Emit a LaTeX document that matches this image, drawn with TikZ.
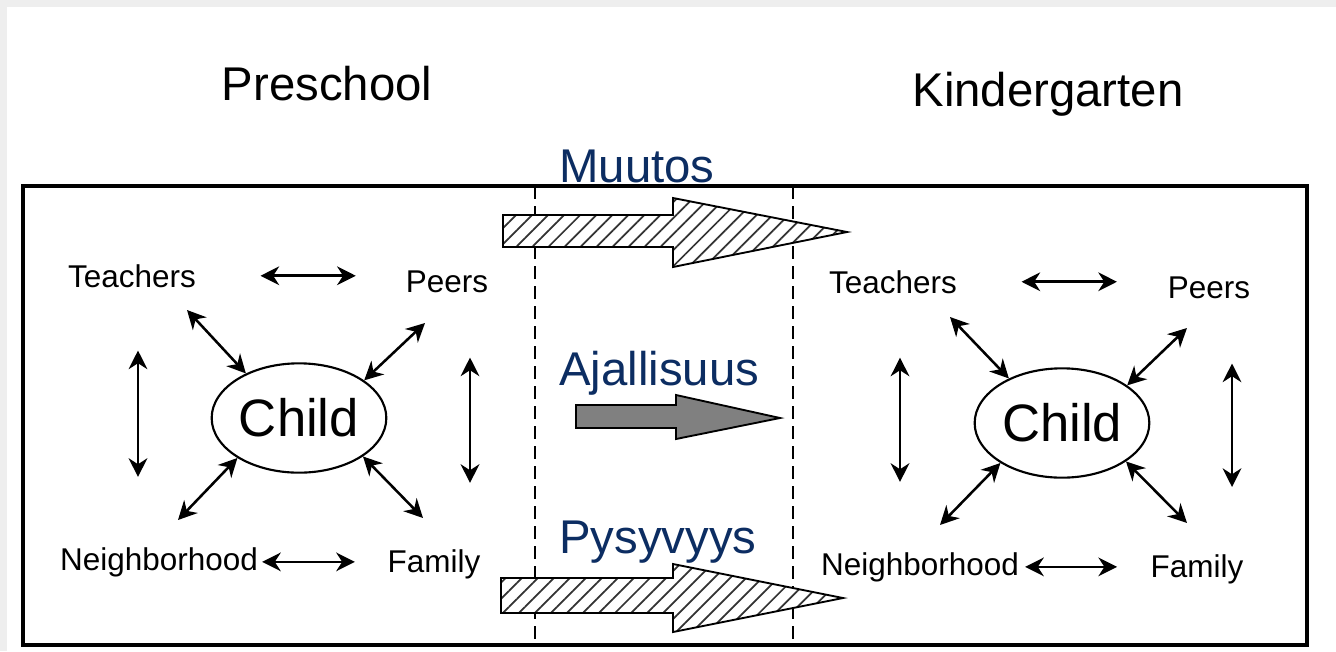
\documentclass[tikz,border=0pt]{standalone}
\usepackage{fontspec}
\setmainfont{Liberation Sans}
\usetikzlibrary{shapes.geometric, arrows.meta, patterns.meta}
\definecolor{bandgray}{RGB}{238,238,238}
\definecolor{phaseblue}{RGB}{12,45,98}
\tikzstyle{heading} = [font=\fontsize{35.5}{40}\selectfont, anchor=base]
\tikzstyle{context} = [font=\fontsize{23.6}{28}\selectfont, anchor=base, inner sep=2pt]
\tikzstyle{childnode} = [ellipse, draw=black, line width=1.6pt, minimum width=131pt, minimum height=82pt, inner sep=0pt, font=\fontsize{39.5}{44}\selectfont]
\tikzstyle{phase} = [font=\fontsize{35.5}{40}\selectfont, text=phaseblue, anchor=base west, inner sep=0pt]
\tikzstyle{arrow} = [line width=1.9pt, {Stealth[length=14pt,width=14pt,inset=4.5pt]}-{Stealth[length=14pt,width=14pt,inset=4.5pt]}]
\tikzstyle{divider} = [line width=1.9pt, dash pattern=on 10pt off 5pt]
\tikzstyle{hatched} = [draw=black, line width=1.4pt, preaction={fill=white}, pattern={Lines[angle=45,distance=8.5pt,line width=1.3pt]}, pattern color=black!80]
\tikzstyle{greyarrow} = [draw=black, line width=1.4pt, fill=black!50]
\begin{document}
\begin{tikzpicture}[x=0.75pt, y=-0.75pt]

    \useasboundingbox (0,0) rectangle (1336,651);
    \fill [bandgray] (0,0) rectangle (1336,651);
    \fill [white] (7,7) rectangle (1336,651);

    \node (preschool) [heading] at (327,100) {Preschool};
    \node (kinder) [heading] at (1048,106) {Kindergarten};

    \draw [line width=2.6pt] (23,186) rectangle (1307,645);
    \draw [divider] (535,186) -- (535,645);
    \draw [divider] (793,186) -- (793,645);

    % big arrows in the middle
    \draw [hatched] (503,215) -- (673,215) -- (673,198) -- (847,232) -- (673,267) -- (673,247) -- (503,247) -- cycle;
    \draw [greyarrow] (576,405) -- (676,405) -- (676,395) -- (780,418) -- (676,439) -- (676,428) -- (576,428) -- cycle;
    \draw [hatched] (501,578) -- (673,578) -- (673,564) -- (843,598) -- (673,632) -- (673,613) -- (501,613) -- cycle;

    \node (muutos) [phase] at (559,182) {Muutos};
    \node (ajallisuus) [phase] at (559,385) {Ajallisuus};
    \node (pysyvyys) [phase] at (559,553) {Pysyvyys};

    % preschool
    \node (childL) [childnode] at (299,418) {Child};
    \node (teachL) [context] at (132,287) {Teachers};
    \node (peerL) [context] at (447,292) {Peers};
    \node (nbhL) [context] at (159,570) {Neighborhood};
    \node (famL) [context] at (434,572) {Family};
    \coordinate (tL) at (187,310);
    \coordinate (pL) at (425,323);
    \coordinate (nL) at (178,520);
    \coordinate (fL) at (423,518);

    \draw [arrow, shorten <=46.3pt, shorten >=35.4pt] (teachL.east) -- (teachL.east -| peerL.west);
    \draw [arrow, shorten <=1pt, shorten >=22.4pt] (nbhL.east) -- (nbhL.east -| famL.west);
    \draw [arrow, shorten <=45.2pt, shorten >=50.5pt] ([xshift=4.5pt]teachL.south) -- ([xshift=4.5pt]teachL.south |- nbhL.north);
    \draw [arrow, shorten <=46.7pt, shorten >=47.5pt] ([xshift=17.25pt]peerL.south) -- ([xshift=17.25pt]peerL.south |- famL.north);
    \draw [arrow] (childL.140) -- (tL);
    \draw [arrow] (childL.30) -- (pL);
    \draw [arrow] (childL.213) -- (nL);
    \draw [arrow] (childL.-31) -- (fL);

    % kindergarten
    \node (childR) [childnode] at (1062,423) {Child};
    \node (teachR) [context] at (893,293) {Teachers};
    \node (peerR) [context] at (1209,298) {Peers};
    \node (nbhR) [context] at (920,575) {Neighborhood};
    \node (famR) [context] at (1197,577) {Family};
    \coordinate (tR) at (950,317);
    \coordinate (pR) at (1187,328);
    \coordinate (nR) at (940,525);
    \coordinate (fR) at (1187,523);

    \draw [arrow, shorten <=46.3pt, shorten >=36pt] (teachR.east) -- (teachR.east -| peerR.west);
    \draw [arrow, shorten <=2.5pt, shorten >=23pt] (nbhR.east) -- (nbhR.east -| famR.west);
    \draw [arrow, shorten <=46pt, shorten >=50.5pt] ([xshift=5.25pt]teachR.south) -- ([xshift=5.25pt]teachR.south |- nbhR.north);
    \draw [arrow, shorten <=46.7pt, shorten >=48.2pt] ([xshift=17.25pt]peerR.south) -- ([xshift=17.25pt]peerR.south |- famR.north);
    \draw [arrow] (childR.140) -- (tR);
    \draw [arrow] (childR.30) -- (pR);
    \draw [arrow] (childR.213) -- (nR);
    \draw [arrow] (childR.-31) -- (fR);

\end{tikzpicture}
\end{document}
